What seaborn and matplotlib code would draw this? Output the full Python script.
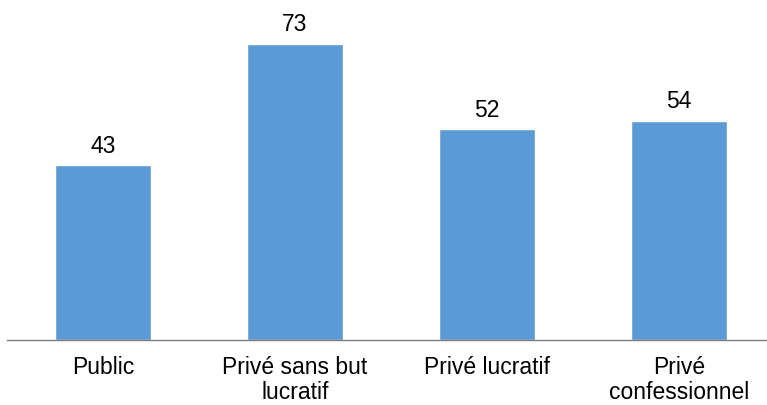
import matplotlib
matplotlib.use("Agg")
import matplotlib.pyplot as plt
import pandas as pd
import seaborn as sns

categories = ["Public", "Privé sans but\nlucratif", "Privé lucratif", "Privé\nconfessionnel"]
values = [43, 73, 52, 54]

BAR_COLOR = "#5B9BD5"

sns.set_theme(style="white")
plt.rcParams["font.family"] = ["Liberation Sans", "DejaVu Sans"]

df = pd.DataFrame({"category": categories, "value": values})

fig = plt.figure(figsize=(7.67, 4.06), dpi=100)
ax = fig.add_axes([7 / 767, 65 / 406, 768 / 767, 341 / 406])
sns.barplot(data=df, x="category", y="value", color=BAR_COLOR, width=0.495, saturation=1, ax=ax)

for container in ax.containers:
    ax.bar_label(container, fontsize=16.5, padding=6, color="black")

ax.set_ylim(0, 84)
ax.set_xlim(-0.5, 3.5)
ax.set_xlabel("")
ax.set_ylabel("")
ax.set_yticks([])
ax.tick_params(axis="x", length=0, labelsize=16.5, colors="black", pad=11)
for label in ax.get_xticklabels():
    label.set_linespacing(1.1)
for side in ["top", "right", "left"]:
    ax.spines[side].set_visible(False)
ax.spines["bottom"].set_color("#7f7f7f")
ax.spines["bottom"].set_linewidth(1)

fig.savefig("out.png", dpi=100)
plt.close(fig)
